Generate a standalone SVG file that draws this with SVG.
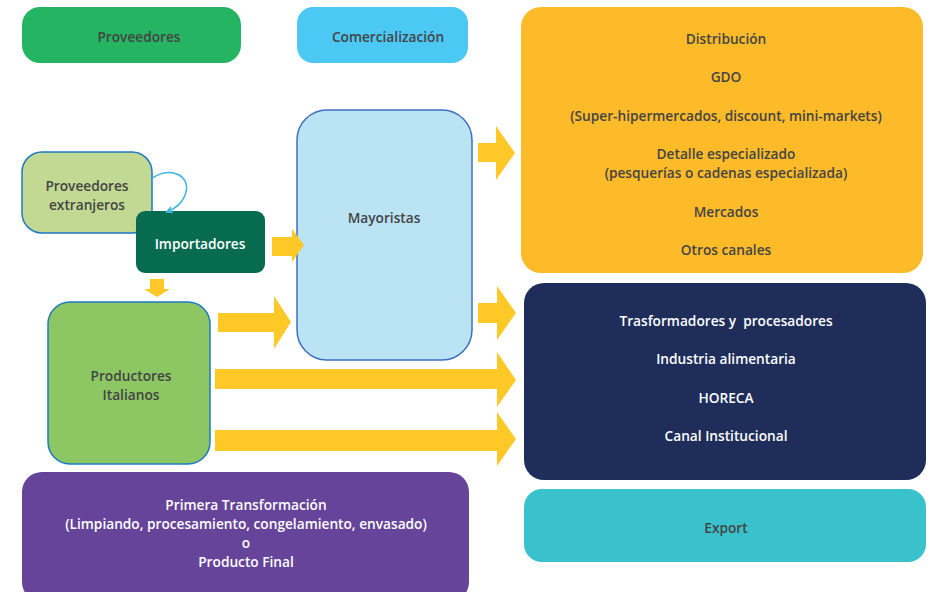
<svg xmlns="http://www.w3.org/2000/svg" width="930" height="592" viewBox="0 0 930 592">
<defs>
<style>
text{font-family:"Open Sans","Liberation Sans",sans-serif;font-weight:600;font-size:13.7px;text-anchor:middle;dominant-baseline:central;fill:#444}
.w{fill:#fff}
.arr{fill:#fec926}
</style>
<marker id="ah" markerWidth="8" markerHeight="8" refX="6" refY="4" orient="auto" markerUnits="userSpaceOnUse">
<path d="M0,0 L8,4 L0,8 L2,4 Z" fill="#3fb6e0"/>
</marker>
</defs>
<rect width="930" height="592" fill="#fff"/>
<g id="proveedores"><rect x="22" y="7" width="219" height="56" rx="18" fill="#25b562"/><text x="139" y="36">Proveedores</text></g>
<g id="comercializacion"><rect x="297" y="7" width="171" height="56" rx="16" fill="#4bc8f4"/><text x="388" y="36">Comercialización</text></g>
<g id="distribucion"><rect x="521" y="7" width="402" height="266" rx="20" fill="#fdbb2a"/>
<text x="726" y="38">Distribución</text>
<text x="726" y="76">GDO</text>
<text x="726" y="115">(Super-hipermercados, discount, mini-markets)</text>
<text x="726" y="153">Detalle especializado</text>
<text x="726" y="172">(pesquerías o cadenas especializada)</text>
<text x="726" y="211">Mercados</text>
<text x="726" y="249">Otros canales</text></g>
<g id="industria"><rect x="524" y="283" width="402" height="197" rx="20" fill="#1e2d5a"/>
<text class="w" x="726" y="320">Trasformadores y&#160; procesadores</text>
<text class="w" x="726" y="358">Industria alimentaria</text>
<text class="w" x="726" y="397">HORECA</text>
<text class="w" x="726" y="435">Canal Institucional</text></g>
<g id="export"><rect x="524" y="489" width="402" height="73" rx="18" fill="#3ac2cc"/><text x="726" y="527">Export</text></g>
<g id="transformacion"><rect x="22" y="472" width="447" height="130" rx="20" fill="#65449a"/>
<text class="w" x="246" y="504">Primera Transformación</text>
<text class="w" x="246" y="523">(Limpiando, procesamiento, congelamiento, envasado)</text>
<text class="w" x="246" y="542">o</text>
<text class="w" x="246" y="561">Producto Final</text></g>
<g id="extranjeros"><rect x="22" y="152" width="130" height="81" rx="20" fill="#c2d994" stroke="#1f7ac4" stroke-width="1.5"/>
<text x="87" y="185">Proveedores</text><text x="87" y="204">extranjeros</text></g>
<g id="importadores"><rect x="136" y="211" width="129" height="62" rx="9" fill="#076b50"/><text class="w" x="200" y="243">Importadores</text></g>
<g id="productores"><rect x="48" y="302" width="162" height="162" rx="22" fill="#8dc763" stroke="#1f7ac4" stroke-width="1.5"/>
<text x="131" y="375">Productores</text><text x="131" y="394">Italianos</text></g>
<g id="mayoristas"><rect x="297" y="110" width="175" height="250" rx="30" fill="#bae3f4" stroke="#3f6fbf" stroke-width="1.5"/><text x="384" y="217">Mayoristas</text></g>
<g id="connectors">
<path d="M152,178 C172,166 190,176 186,192 C183,203 176,208 167,212" fill="none" stroke="#3fb6e0" stroke-width="1.5" marker-end="url(#ah)"/>
<polygon class="arr" points="150,279 164,279 164,289 170,289 157,297 144,289 150,289"/>
<polygon class="arr" points="272,237 292,237 292,229 304,245 292,262 292,256 272,256"/>
<polygon class="arr" points="218,313 274,313 274,296 291,322 274,349 274,332 218,332"/>
<polygon class="arr" points="478,143 496,143 496,126 515,153 496,180 496,162 478,162"/>
<polygon class="arr" points="478,303 497,303 497,286 516,313 497,340 497,323 478,323"/>
<polygon class="arr" points="215,369 497,369 497,352 516,380 497,407 497,389 215,389"/>
<polygon class="arr" points="215,430 497,430 497,412 516,439 497,466 497,451 215,451"/>
</g>
</svg>
